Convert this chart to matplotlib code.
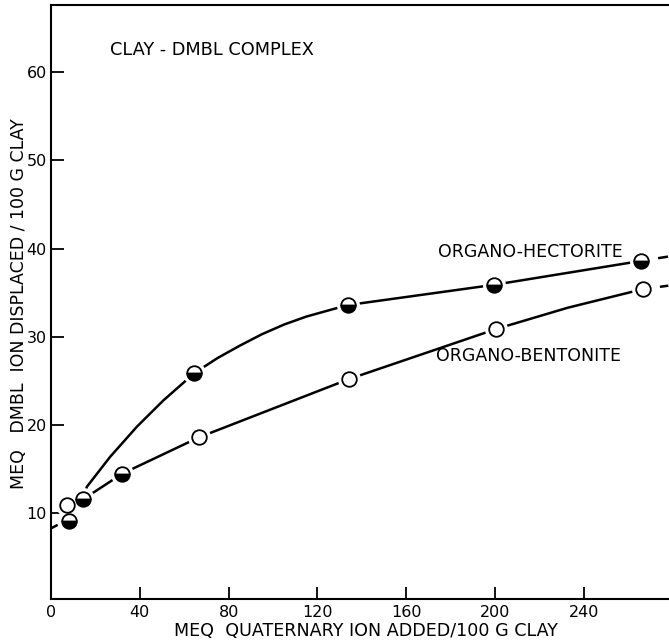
import matplotlib
matplotlib.use("Agg")
import matplotlib.pyplot as plt

hect_x = [8.2, 14.5, 32.1, 64.6, 133.6, 199.6, 265.6]
hect_y = [9.1, 11.6, 14.5, 25.9, 33.6, 35.9, 38.6]
bent_x = [7.3, 66.5, 134.0, 200.6, 266.4]
bent_y = [10.9, 18.6, 25.2, 30.9, 35.4]

# hand-drawn curves as traced on the figure
hect_curve_x = [14.5, 16.1, 26.6, 38.6, 50.6, 64.6, 75.0, 85.0, 95.0, 105.0, 115.0, 125.0,
                133.6, 199.6, 265.6]
hect_curve_y = [11.6, 13.0, 16.4, 19.8, 22.8, 25.9, 27.6, 29.0, 30.3, 31.4, 32.3, 33.0,
                33.6, 35.9, 38.6]
bent_curve_x = [14.5, 32.1, 66.5, 134.0, 200.6, 232.7, 266.4]
bent_curve_y = [11.6, 14.5, 18.6, 25.2, 30.9, 33.3, 35.4]
# dashed extrapolations
hect_dash_x = [0.0, 3.0]
hect_dash_y = [8.3, 8.7]
hect_tail_x = [265.6, 278.0]
hect_tail_y = [38.6, 39.1]
bent_tail_x = [266.4, 278.0]
bent_tail_y = [35.4, 35.8]

xticks = [0, 40, 80, 120, 160, 200, 240]
yticks = [10, 20, 30, 40, 50, 60]

plt.rcParams["font.family"] = "DejaVu Sans"
fig = plt.figure(figsize=(6.69, 6.41), dpi=100)
ax = fig.add_axes([51 / 669, 42 / 641, 1 - 51 / 669, 594 / 641])

ax.plot(hect_curve_x, hect_curve_y, "k-", lw=1.8, solid_joinstyle="round")
ax.plot(bent_curve_x, bent_curve_y, "k-", lw=1.8, solid_joinstyle="round")
for xs, ys in [(hect_dash_x, hect_dash_y), (hect_tail_x, hect_tail_y), (bent_tail_x, bent_tail_y)]:
    ax.plot(xs, ys, "k--", lw=1.8, dashes=(4, 3))

# white halo gives the small gap between line and symbol
ax.plot(hect_x, hect_y, "o", ms=15.5, color="white", mec="white", zorder=3)
ax.plot(bent_x, bent_y, "o", ms=15.5, color="white", mec="white", zorder=3)
ax.plot(hect_x, hect_y, "o", ms=10.5, fillstyle="bottom", mfc="black", mfcalt="white",
        mec="black", mew=1.3, zorder=4)
ax.plot(bent_x, bent_y, "o", ms=10.5, mfc="white", mec="black", mew=1.3, zorder=4)

ax.set_xlim(0, 278.3)
ax.set_ylim(0.3, 67.6)
ax.set_xticks(xticks)
ax.set_yticks(yticks)
ax.tick_params(direction="in", length=9, width=1.3, labelsize=11.5, pad=3)
ax.tick_params(axis="x", pad=4)
ax.spines["right"].set_visible(False)
for s in ["left", "bottom", "top"]:
    ax.spines[s].set_linewidth(1.5)

ax.text(72.5, 62.5, "CLAY - DMBL COMPLEX", ha="center", va="center", fontsize=12.8)
ax.text(216, 39.6, "ORGANO-HECTORITE", ha="center", va="center", fontsize=12.5)
ax.text(215, 27.8, "ORGANO-BENTONITE", ha="center", va="center", fontsize=12.5)

fig.text(366 / 669, 1 - 631 / 641, "MEQ  QUATERNARY ION ADDED/100 G CLAY",
         ha="center", va="center", fontsize=12.6)
fig.text(19 / 669, 1 - 304 / 641, "MEQ   DMBL  ION DISPLACED / 100 G CLAY",
         ha="center", va="center", rotation=90, fontsize=12.5)

fig.savefig("out.png", dpi=100)
